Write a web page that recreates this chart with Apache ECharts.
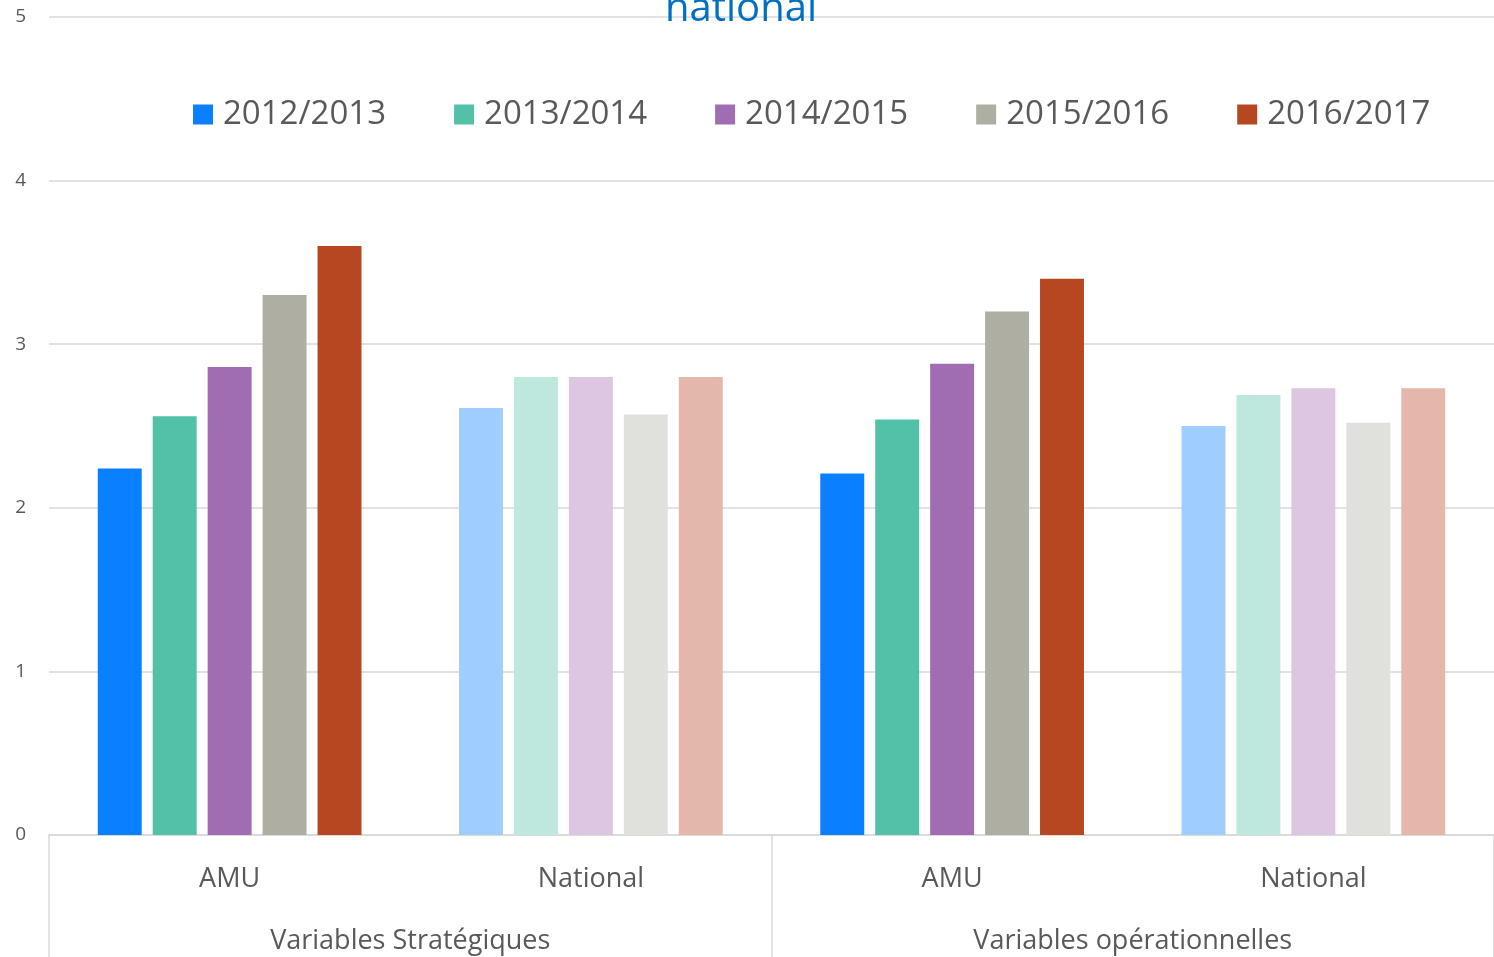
<!DOCTYPE html>
<html>
<head>
<meta charset="utf-8">
<script src="https://cdn.jsdelivr.net/npm/echarts@6/dist/echarts.min.js"></script>
<style>
  html, body { margin: 0; padding: 0; background: #fff; }
  #chart { width: 1494px; height: 957px; }
</style>
</head>
<body>
<div id="chart"></div>
<script>
const categories = ['AMU', 'National', 'AMU', 'National']
const groups = ['Variables Stratégiques', 'Variables opérationnelles']
const years = ['2012/2013', '2013/2014', '2014/2015', '2015/2016', '2016/2017']
const yTicks = [0, 1, 2, 3, 4, 5]

// one array per year: AMU strat, National strat, AMU op, National op
const v2012 = [2.24, 2.61, 2.21, 2.50]
const v2013 = [2.56, 2.80, 2.54, 2.69]
const v2014 = [2.86, 2.80, 2.88, 2.73]
const v2015 = [3.30, 2.57, 3.20, 2.52]
const v2016 = [3.60, 2.80, 3.40, 2.73]

const darkColors = ['#0A7FFF', '#52C1A8', '#A06CB2', '#AEAFA2', '#B64720']
const lightColors = ['#A0CDFF', '#BEE7DE', '#DCC6E2', '#E0E1DD', '#E3B8AB']

const allValues = [v2012, v2013, v2014, v2015, v2016]
const textColor = '#595959'
const fontFamily = '"Open Sans", "Noto Sans", sans-serif'

const chart = echarts.init(document.getElementById('chart'))

chart.setOption({
  animation: false,
  graphic: [{
    type: 'text',
    style: {
      text: 'national',
      x: 741,
      y: 30,
      align: 'center',
      verticalAlign: 'bottom',
      fill: '#0070C0',
      font: '40px ' + fontFamily
    },
    z: 10
  }],
  legend: {
    top: 93,
    left: 188,
    itemWidth: 20,
    itemHeight: 20,
    itemGap: 68,
    icon: 'rect',
    textStyle: { fontSize: 33, color: textColor, fontFamily: fontFamily, padding: [0, 0, 0, 5] },
    data: years
  },
  grid: {
    left: 49,
    right: 0,
    top: 17,
    bottom: 122,
    containLabel: false
  },
  xAxis: [{
    type: 'category',
    data: categories,
    axisLine: { lineStyle: { color: '#D9D9D9', width: 1.5 } },
    axisTick: { show: false },
    axisLabel: { fontSize: 27, color: textColor, fontFamily: fontFamily, margin: 31 }
  }, {
    type: 'category',
    data: groups,
    position: 'bottom',
    axisLine: { show: false },
    axisTick: { show: true, length: 125, interval: 0, lineStyle: { color: '#D9D9D9', width: 1.5 } },
    axisLabel: { fontSize: 27, color: textColor, fontFamily: fontFamily, margin: 93 }
  }],
  yAxis: {
    type: 'value',
    min: yTicks[0],
    max: yTicks[yTicks.length - 1],
    interval: 1,
    axisLine: { show: false },
    axisTick: { show: false },
    axisLabel: { fontSize: 19, color: textColor, fontFamily: fontFamily, margin: 23 },
    splitLine: { lineStyle: { color: '#D9D9D9', width: 1.5 } }
  },
  series: years.map((name, i) => ({
    name: name,
    type: 'bar',
    barGap: '25%',
    barCategoryGap: '27%',
    itemStyle: { color: darkColors[i] },
    data: allValues[i].map((v, j) => (
      categories[j] === 'National'
        ? { value: v, itemStyle: { color: lightColors[i] } }
        : v
    ))
  }))
})
</script>
</body>
</html>
